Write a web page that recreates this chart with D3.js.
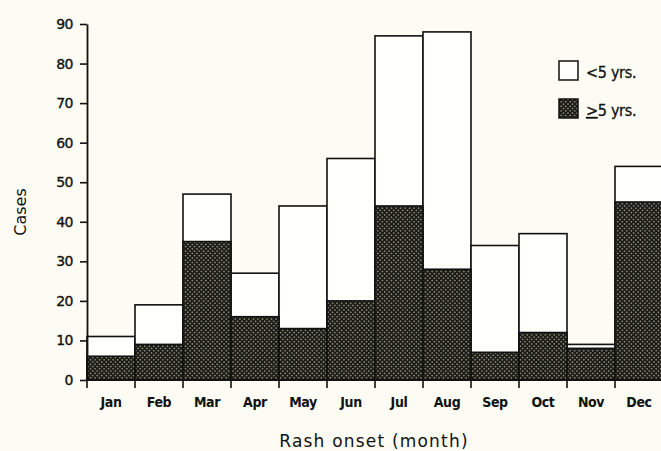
<!DOCTYPE html>
<html>
<head>
<meta charset="utf-8">
<script src="https://cdn.jsdelivr.net/npm/d3@7"></script>
<style>
  body { margin: 0; background: #fcfcf4; }
  svg { display: block; }
</style>
</head>
<body>
<svg id="svg"></svg>
<script>
// months on the x axis
const months = ["Jan", "Feb", "Mar", "Apr", "May", "Jun", "Jul", "Aug", "Sep", "Oct", "Nov", "Dec"];
// cases aged >=5 years (dark, bottom)
const over5 = [6, 9, 35, 16, 13, 20, 44, 28, 7, 12, 8, 45];
// cases aged <5 years (white, on top)
const under5 = [5, 10, 12, 11, 31, 36, 43, 60, 27, 25, 1, 9];
const yTicks = [0, 10, 20, 30, 40, 50, 60, 70, 80, 90];

const width = 661;
const height = 451;

let svg = d3.select("#svg")
    .attr("width", width)
    .attr("height", height);

const margin = { top: 24, left: 87, bottom: 71 };
const bandW = 48;

// dotted fill for the dark part
let defs = svg.append("defs");
let pat = defs.append("pattern")
    .attr("id", "dots")
    .attr("patternUnits", "userSpaceOnUse")
    .attr("width", 3.2)
    .attr("height", 3.2)
    .attr("patternTransform", "rotate(45)");
pat.append("rect").attr("width", 3.2).attr("height", 3.2).attr("fill", "#1c1c16");
pat.append("circle").attr("cx", 1.6).attr("cy", 1.6).attr("r", 0.75).attr("fill", "#a8a89e");

let xScale = d3.scaleBand()
    .domain(months)
    .range([margin.left, margin.left + bandW * months.length])
    .padding(0);

let yScale = d3.scaleLinear()
    .domain([0, 90])
    .range([height - margin.bottom, margin.top]);

let rows = months.map((m, i) => ({ month: m, low: over5[i], high: over5[i] + under5[i] }));

let chart = svg.append("g");

// white part (total)
chart.selectAll(".total")
    .data(rows)
    .enter().append("rect")
    .attr("class", "total")
    .attr("x", d => xScale(d.month))
    .attr("y", d => yScale(d.high))
    .attr("width", xScale.bandwidth())
    .attr("height", d => yScale(0) - yScale(d.high))
    .attr("fill", "#fffffb")
    .attr("stroke", "#111")
    .attr("stroke-width", 1.6);

// dark part
chart.selectAll(".dark")
    .data(rows)
    .enter().append("rect")
    .attr("class", "dark")
    .attr("x", d => xScale(d.month))
    .attr("y", d => yScale(d.low))
    .attr("width", xScale.bandwidth())
    .attr("height", d => yScale(0) - yScale(d.low))
    .attr("fill", "url(#dots)")
    .attr("stroke", "#111")
    .attr("stroke-width", 1.6);

// y axis
let yAxis = svg.append("g")
    .attr("transform", `translate(${margin.left},0)`)
    .call(d3.axisLeft(yScale).tickValues(yTicks).tickSize(7).tickPadding(7).tickSizeOuter(0));
yAxis.select(".domain").attr("stroke", "#111").attr("stroke-width", 1.8);
yAxis.selectAll(".tick line").attr("stroke", "#111").attr("stroke-width", 1.6);
yAxis.selectAll("text")
    .attr("fill", "#111")
    .attr("stroke", "#111")
    .attr("stroke-width", 0.35)
    .style("font-family", "DejaVu Sans")
    .style("font-size", "14px")
    .style("letter-spacing", "-0.5px");

// x axis: ticks at the bar boundaries
let xAxis = svg.append("g")
    .attr("transform", `translate(0,${yScale(0)})`);
xAxis.append("line")
    .attr("x1", margin.left).attr("x2", width)
    .attr("stroke", "#111").attr("stroke-width", 1.8);
xAxis.selectAll(".xtick")
    .data(months)
    .enter().append("line")
    .attr("x1", d => xScale(d)).attr("x2", d => xScale(d))
    .attr("y1", 0).attr("y2", 8)
    .attr("stroke", "#111").attr("stroke-width", 1.6);
xAxis.selectAll(".xlabel")
    .data(months)
    .enter().append("text")
    .attr("x", d => xScale(d) + xScale.bandwidth() / 2)
    .attr("y", 27)
    .attr("text-anchor", "middle")
    .attr("fill", "#111")
    .style("font-family", "DejaVu Sans Condensed")
    .style("font-weight", "bold")
    .style("font-size", "14px")
    .style("letter-spacing", "-0.4px")
    .text(d => d);

// axis titles
svg.append("text")
    .attr("x", 374)
    .attr("y", 447)
    .attr("text-anchor", "middle")
    .attr("fill", "#111")
    .style("font-family", "DejaVu Sans")
    .style("font-size", "17px")
    .style("letter-spacing", "1.2px")
    .text("Rash onset (month)");

svg.append("text")
    .attr("transform", "rotate(-90)")
    .attr("x", -212)
    .attr("y", 26)
    .attr("text-anchor", "middle")
    .attr("fill", "#111")
    .style("font-family", "DejaVu Sans")
    .style("font-size", "16px")
    .text("Cases");

// legend
let legend = svg.append("g");
legend.append("rect")
    .attr("x", 559).attr("y", 61).attr("width", 19).attr("height", 19)
    .attr("fill", "#fffffb").attr("stroke", "#111").attr("stroke-width", 1.5);
legend.append("text")
    .attr("x", 586).attr("y", 78)
    .attr("fill", "#111")
    .attr("stroke", "#111")
    .attr("stroke-width", 0.3)
    .style("font-family", "DejaVu Sans Condensed")
    .style("font-size", "16px")
    .style("letter-spacing", "-0.3px")
    .text("<5 yrs.");
legend.append("rect")
    .attr("x", 559).attr("y", 99).attr("width", 19).attr("height", 19)
    .attr("fill", "url(#dots)").attr("stroke", "#111").attr("stroke-width", 1.5);
let lt = legend.append("text")
    .attr("x", 586).attr("y", 116)
    .attr("fill", "#111")
    .attr("stroke", "#111")
    .attr("stroke-width", 0.3)
    .style("font-family", "DejaVu Sans Condensed")
    .style("font-size", "16px")
    .style("letter-spacing", "-0.3px");
lt.append("tspan").style("text-decoration", "underline").text(">");
lt.append("tspan").text("5 yrs.");
</script>
</body>
</html>
